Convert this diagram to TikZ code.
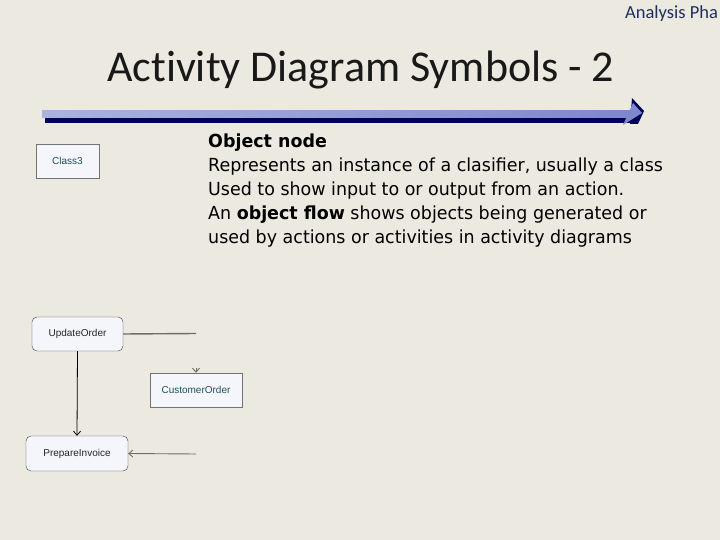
\documentclass[tikz,border=0pt]{standalone}
\usepackage{fontspec}
\setmainfont{Carlito}[Ligatures=CommonOff]
\newfontfamily\tah[FakeStretch=0.97]{DejaVu Sans}
\newfontfamily\ari{Liberation Sans}
\usetikzlibrary{arrows.meta}
\definecolor{bg}{RGB}{236,233,224}
\definecolor{hdr}{RGB}{31,47,95}
\definecolor{navy}{RGB}{0,0,90}
\definecolor{lblue}{RGB}{170,178,222}
\definecolor{mblue}{RGB}{128,136,205}
\definecolor{boxfill}{RGB}{245,245,252}
\definecolor{clstext}{RGB}{30,80,90}
\definecolor{flow}{RGB}{110,110,110}
\tikzset{
  objbox/.style={draw=black!55, fill=boxfill, inner sep=0pt, text=clstext,
    font=\ari\fontsize{10}{11}\selectfont},
  actbox/.style={draw=black!75, fill=boxfill, rounded corners=5pt, inner sep=0pt,
    text=black!85, font=\ari\fontsize{10}{11}\selectfont},
  ctl/.style={draw=black, line width=0.8pt, -{Straight Barb[length=4pt,width=7pt]}},
  oflow/.style={draw=flow, line width=1.4pt},
  oarrow/.style={draw=flow, line width=0.9pt, -{Straight Barb[length=4pt,width=7pt]}}
}
\begin{document}
\begin{tikzpicture}[x=1pt,y=-1pt]
\fill[bg] (0,0) rectangle (720,540);
\useasboundingbox (0,0) rectangle (720,540);
% header
\node[anchor=base west, text=hdr, font=\fontsize{18.5}{20}\selectfont, inner sep=0pt] (hdr) at (625,19) {Analysis Pha};
\node[anchor=base west, text=black!90, font=\fontsize{44}{48}\selectfont, inner sep=0pt] (title) at (107,82) {Activity Diagram Symbols - 2};
% rule with arrow
\shade[left color=lblue, right color=mblue] (42,110.7) rectangle (630,118);
\fill[navy] (45,118) rectangle (636,122.8);
\fill[navy] (632,98) -- (644,111) -- (638,124) -- (630,124) -- cycle;
\fill[mblue] (633,103) -- (642,113) -- (623,125) -- cycle;
% text
\node[anchor=north west, align=left, inner sep=0pt, font=\tah\fontsize{18}{24}\selectfont] (txt) at (208,134)
{\textbf{Object node}\\
Represents an instance of a clasifier, usually a class\\
Used to show input to or output from an action.\\
An \textbf{object flow} shows objects being generated or\\
used by actions or activities in activity diagrams};
% nodes
\node[objbox, minimum width=63pt, minimum height=34pt] (c3) at (67.5,161) {Class3};
\node[actbox, minimum width=91pt, minimum height=34pt] (uo) at (77.5,334) {UpdateOrder};
\node[objbox, minimum width=92pt, minimum height=34pt] (co) at (196,390) {CustomerOrder};
\node[actbox, minimum width=102pt, minimum height=35pt] (pi) at (77,453.5) {PrepareInvoice};
% connectors
\coordinate (e1) at (196,333.5);
\coordinate (e2) at (196,368);
\coordinate (e3) at (196,454);
\draw[ctl] (uo.south) -- (pi.north);
\draw[oflow] (uo.east) -- (e1);
\draw[oarrow] (e2) -- (co.north);
\draw[oarrow] (e3) -- (pi.east);
\end{tikzpicture}
\end{document}
